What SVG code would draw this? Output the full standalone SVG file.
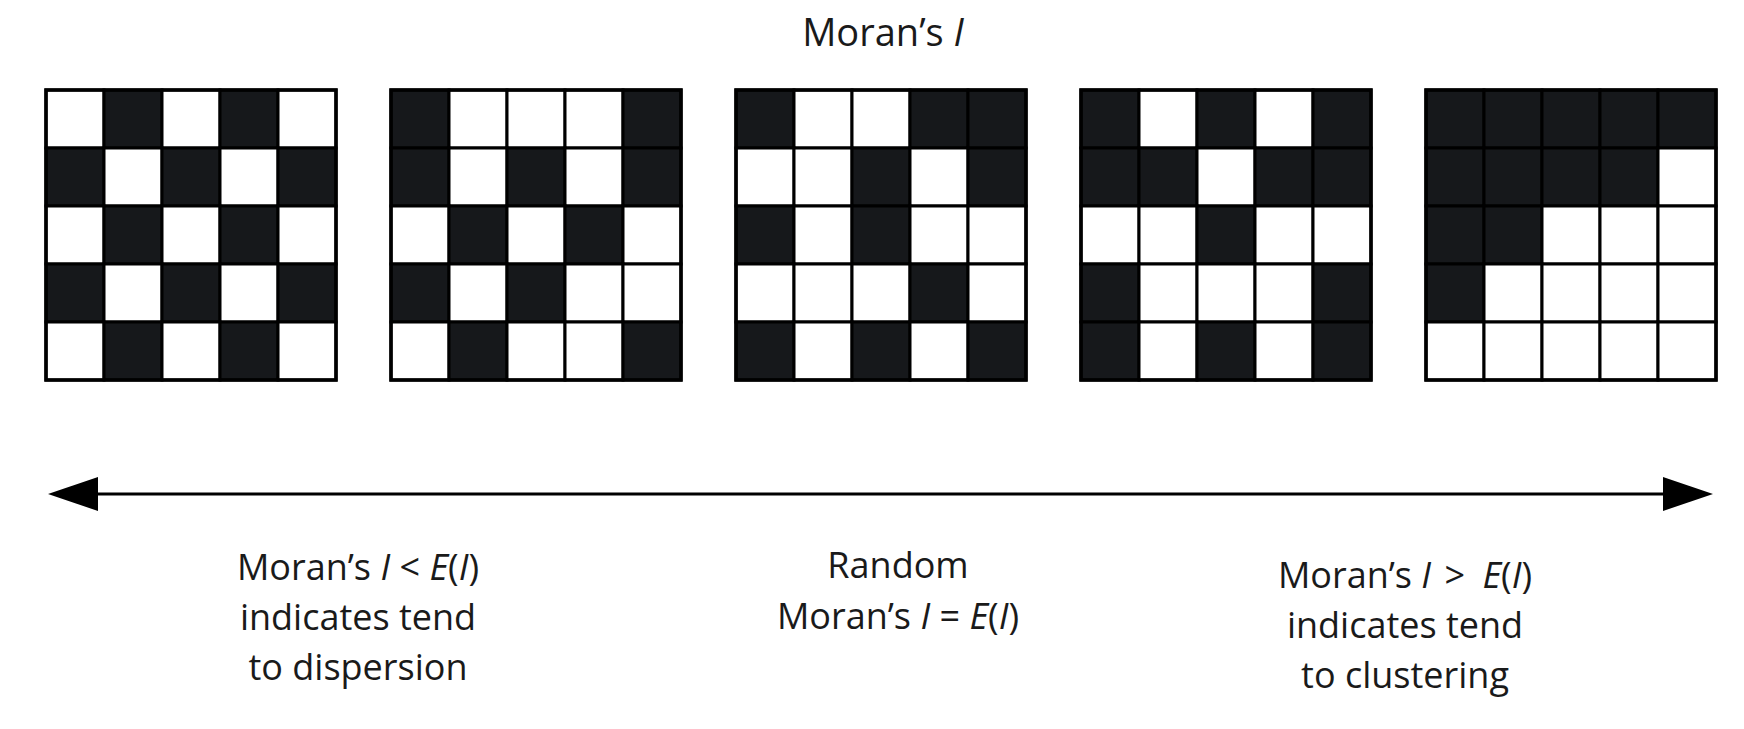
<svg xmlns="http://www.w3.org/2000/svg" xmlns:xlink="http://www.w3.org/1999/xlink" width="1744" height="729" viewBox="0 0 1744 729">
<style>
.w{fill:#ffffff;stroke:#000;stroke-width:3}
.b{fill:#16181b;stroke:#000;stroke-width:3}
.frame{fill:none;stroke:#000;stroke-width:3.5}
.t{font-family:"Open Sans","Noto Sans",sans-serif;font-size:36px;fill:#1a1a1a;text-anchor:middle}
.h{font-size:38px}
.i{font-style:italic}
</style>
<defs>
<marker id="ah" viewBox="0 0 50 34" markerWidth="50" markerHeight="34" refX="1" refY="17" orient="auto-start-reverse" markerUnits="userSpaceOnUse">
<path d="M0,0 L50,17 L0,34 Z" fill="#000"/>
</marker>
</defs>
<rect width="1744" height="729" fill="#fff"/>
<g id="title"><text class="t h" x="883" y="46">Moran’s <tspan class="i">I</tspan></text></g>

<g id="grid1">
<rect class="w" x="46" y="90" width="58" height="58"/><rect class="b" x="104" y="90" width="58" height="58"/><rect class="w" x="162" y="90" width="58" height="58"/><rect class="b" x="220" y="90" width="58" height="58"/><rect class="w" x="278" y="90" width="58" height="58"/>
<rect class="b" x="46" y="148" width="58" height="58"/><rect class="w" x="104" y="148" width="58" height="58"/><rect class="b" x="162" y="148" width="58" height="58"/><rect class="w" x="220" y="148" width="58" height="58"/><rect class="b" x="278" y="148" width="58" height="58"/>
<rect class="w" x="46" y="206" width="58" height="58"/><rect class="b" x="104" y="206" width="58" height="58"/><rect class="w" x="162" y="206" width="58" height="58"/><rect class="b" x="220" y="206" width="58" height="58"/><rect class="w" x="278" y="206" width="58" height="58"/>
<rect class="b" x="46" y="264" width="58" height="58"/><rect class="w" x="104" y="264" width="58" height="58"/><rect class="b" x="162" y="264" width="58" height="58"/><rect class="w" x="220" y="264" width="58" height="58"/><rect class="b" x="278" y="264" width="58" height="58"/>
<rect class="w" x="46" y="322" width="58" height="58"/><rect class="b" x="104" y="322" width="58" height="58"/><rect class="w" x="162" y="322" width="58" height="58"/><rect class="b" x="220" y="322" width="58" height="58"/><rect class="w" x="278" y="322" width="58" height="58"/>
<rect class="frame" x="46" y="90" width="290" height="290"/>
</g>

<g id="grid2">
<rect class="b" x="391" y="90" width="58" height="58"/><rect class="w" x="449" y="90" width="58" height="58"/><rect class="w" x="507" y="90" width="58" height="58"/><rect class="w" x="565" y="90" width="58" height="58"/><rect class="b" x="623" y="90" width="58" height="58"/>
<rect class="b" x="391" y="148" width="58" height="58"/><rect class="w" x="449" y="148" width="58" height="58"/><rect class="b" x="507" y="148" width="58" height="58"/><rect class="w" x="565" y="148" width="58" height="58"/><rect class="b" x="623" y="148" width="58" height="58"/>
<rect class="w" x="391" y="206" width="58" height="58"/><rect class="b" x="449" y="206" width="58" height="58"/><rect class="w" x="507" y="206" width="58" height="58"/><rect class="b" x="565" y="206" width="58" height="58"/><rect class="w" x="623" y="206" width="58" height="58"/>
<rect class="b" x="391" y="264" width="58" height="58"/><rect class="w" x="449" y="264" width="58" height="58"/><rect class="b" x="507" y="264" width="58" height="58"/><rect class="w" x="565" y="264" width="58" height="58"/><rect class="w" x="623" y="264" width="58" height="58"/>
<rect class="w" x="391" y="322" width="58" height="58"/><rect class="b" x="449" y="322" width="58" height="58"/><rect class="w" x="507" y="322" width="58" height="58"/><rect class="w" x="565" y="322" width="58" height="58"/><rect class="b" x="623" y="322" width="58" height="58"/>
<rect class="frame" x="391" y="90" width="290" height="290"/>
</g>

<g id="grid3">
<rect class="b" x="736" y="90" width="58" height="58"/><rect class="w" x="794" y="90" width="58" height="58"/><rect class="w" x="852" y="90" width="58" height="58"/><rect class="b" x="910" y="90" width="58" height="58"/><rect class="b" x="968" y="90" width="58" height="58"/>
<rect class="w" x="736" y="148" width="58" height="58"/><rect class="w" x="794" y="148" width="58" height="58"/><rect class="b" x="852" y="148" width="58" height="58"/><rect class="w" x="910" y="148" width="58" height="58"/><rect class="b" x="968" y="148" width="58" height="58"/>
<rect class="b" x="736" y="206" width="58" height="58"/><rect class="w" x="794" y="206" width="58" height="58"/><rect class="b" x="852" y="206" width="58" height="58"/><rect class="w" x="910" y="206" width="58" height="58"/><rect class="w" x="968" y="206" width="58" height="58"/>
<rect class="w" x="736" y="264" width="58" height="58"/><rect class="w" x="794" y="264" width="58" height="58"/><rect class="w" x="852" y="264" width="58" height="58"/><rect class="b" x="910" y="264" width="58" height="58"/><rect class="w" x="968" y="264" width="58" height="58"/>
<rect class="b" x="736" y="322" width="58" height="58"/><rect class="w" x="794" y="322" width="58" height="58"/><rect class="b" x="852" y="322" width="58" height="58"/><rect class="w" x="910" y="322" width="58" height="58"/><rect class="b" x="968" y="322" width="58" height="58"/>
<rect class="frame" x="736" y="90" width="290" height="290"/>
</g>

<g id="grid4">
<rect class="b" x="1081" y="90" width="58" height="58"/><rect class="w" x="1139" y="90" width="58" height="58"/><rect class="b" x="1197" y="90" width="58" height="58"/><rect class="w" x="1255" y="90" width="58" height="58"/><rect class="b" x="1313" y="90" width="58" height="58"/>
<rect class="b" x="1081" y="148" width="58" height="58"/><rect class="b" x="1139" y="148" width="58" height="58"/><rect class="w" x="1197" y="148" width="58" height="58"/><rect class="b" x="1255" y="148" width="58" height="58"/><rect class="b" x="1313" y="148" width="58" height="58"/>
<rect class="w" x="1081" y="206" width="58" height="58"/><rect class="w" x="1139" y="206" width="58" height="58"/><rect class="b" x="1197" y="206" width="58" height="58"/><rect class="w" x="1255" y="206" width="58" height="58"/><rect class="w" x="1313" y="206" width="58" height="58"/>
<rect class="b" x="1081" y="264" width="58" height="58"/><rect class="w" x="1139" y="264" width="58" height="58"/><rect class="w" x="1197" y="264" width="58" height="58"/><rect class="w" x="1255" y="264" width="58" height="58"/><rect class="b" x="1313" y="264" width="58" height="58"/>
<rect class="b" x="1081" y="322" width="58" height="58"/><rect class="w" x="1139" y="322" width="58" height="58"/><rect class="b" x="1197" y="322" width="58" height="58"/><rect class="w" x="1255" y="322" width="58" height="58"/><rect class="b" x="1313" y="322" width="58" height="58"/>
<rect class="frame" x="1081" y="90" width="290" height="290"/>
</g>

<g id="grid5">
<rect class="b" x="1426" y="90" width="58" height="58"/><rect class="b" x="1484" y="90" width="58" height="58"/><rect class="b" x="1542" y="90" width="58" height="58"/><rect class="b" x="1600" y="90" width="58" height="58"/><rect class="b" x="1658" y="90" width="58" height="58"/>
<rect class="b" x="1426" y="148" width="58" height="58"/><rect class="b" x="1484" y="148" width="58" height="58"/><rect class="b" x="1542" y="148" width="58" height="58"/><rect class="b" x="1600" y="148" width="58" height="58"/><rect class="w" x="1658" y="148" width="58" height="58"/>
<rect class="b" x="1426" y="206" width="58" height="58"/><rect class="b" x="1484" y="206" width="58" height="58"/><rect class="w" x="1542" y="206" width="58" height="58"/><rect class="w" x="1600" y="206" width="58" height="58"/><rect class="w" x="1658" y="206" width="58" height="58"/>
<rect class="b" x="1426" y="264" width="58" height="58"/><rect class="w" x="1484" y="264" width="58" height="58"/><rect class="w" x="1542" y="264" width="58" height="58"/><rect class="w" x="1600" y="264" width="58" height="58"/><rect class="w" x="1658" y="264" width="58" height="58"/>
<rect class="w" x="1426" y="322" width="58" height="58"/><rect class="w" x="1484" y="322" width="58" height="58"/><rect class="w" x="1542" y="322" width="58" height="58"/><rect class="w" x="1600" y="322" width="58" height="58"/><rect class="w" x="1658" y="322" width="58" height="58"/>
<rect class="frame" x="1426" y="90" width="290" height="290"/>
</g>

<g id="connectors">
<line x1="97" y1="494" x2="1664" y2="494" stroke="#000" stroke-width="3" marker-start="url(#ah)" marker-end="url(#ah)"/>
</g>

<g id="label-dispersion">
<text class="t" x="358" y="580">Moran’s <tspan class="i">I</tspan> &lt; <tspan class="i">E</tspan>(<tspan class="i">I</tspan>)</text>
<text class="t" x="358" y="630">indicates tend</text>
<text class="t" x="358" y="680">to dispersion</text>
</g>
<g id="label-random">
<text class="t" x="898" y="578">Random</text>
<text class="t" x="898" y="629">Moran’s <tspan class="i">I</tspan> = <tspan class="i">E</tspan>(<tspan class="i">I</tspan>)</text>
</g>
<g id="label-clustering">
<text class="t" x="1405" y="588">Moran’s <tspan class="i">I</tspan> <tspan dx="4">&gt;</tspan> <tspan class="i" dx="8">E</tspan>(<tspan class="i">I</tspan>)</text>
<text class="t" x="1405" y="638">indicates tend</text>
<text class="t" x="1405" y="688">to clustering</text>
</g>
</svg>
